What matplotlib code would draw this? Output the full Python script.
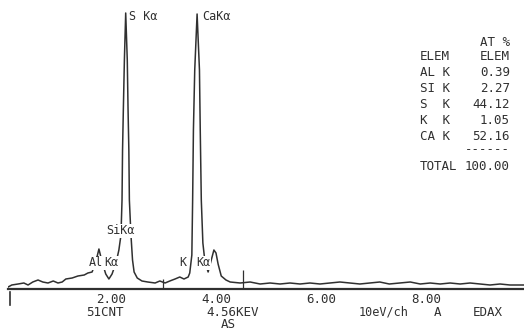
import matplotlib
matplotlib.use("Agg")
import matplotlib.pyplot as plt
from matplotlib.lines import Line2D

# ---- data ----
energy_kev = [0.04, 0.11, 0.23, 0.34, 0.42, 0.51, 0.61, 0.70, 0.80, 0.90, 0.99, 1.07,
              1.14, 1.26, 1.37, 1.49, 1.56, 1.64, 1.71, 1.77, 1.83, 1.90, 1.96, 2.02,
              2.10, 2.15, 2.19, 2.21, 2.22, 2.235, 2.255, 2.28, 2.31, 2.325, 2.34, 2.35,
              2.38, 2.41, 2.44, 2.50, 2.59, 2.70, 2.84, 2.93, 3.03, 3.12, 3.22, 3.31,
              3.39, 3.47, 3.50, 3.54, 3.555, 3.57, 3.595, 3.64, 3.685, 3.70, 3.72, 3.75,
              3.79, 3.85, 3.90, 3.96, 4.00, 4.04, 4.10, 4.19, 4.27, 4.46, 4.65, 4.84,
              5.03, 5.22, 5.41, 5.60, 5.79, 5.98, 6.17, 6.36, 6.55, 6.74, 6.93, 7.12,
              7.30, 7.50, 7.70, 7.89, 8.08, 8.27, 8.46, 8.65, 8.84, 9.03, 9.22, 9.41,
              9.60, 9.87]
counts = [2, 4, 5, 6, 4, 7, 9, 7, 6, 8, 6, 7,
          10, 11, 13, 14, 16, 17, 27, 40, 27, 15, 10, 15,
          27, 39, 54, 89, 139, 179, 229, 276, 229, 179, 139, 89,
          54, 29, 17, 11, 8, 7, 6, 8, 6, 8, 10, 12,
          10, 12, 16, 34, 89, 159, 219, 275, 219, 159, 89, 46,
          27, 17, 27, 39, 36, 25, 13, 9, 7, 6, 7, 5,
          6, 5, 6, 5, 6, 5, 6, 7, 6, 5, 6, 7,
          5, 6, 7, 5, 6, 5, 6, 5, 6, 5, 4, 5,
          4, 4]
cursor_kev = [2.99, 4.51]
cursor_top = [10, 19]

tick_kev = [2, 4, 6, 8]
tick_labels = ["2.00", "4.00", "6.00", "8.00"]

table_elems = ["AL K", "SI K", "S  K", "K  K", "CA K"]
table_at_pct = ["0.39", "2.27", "44.12", "1.05", "52.16"]
table_total = "100.00"

INK = "#303030"
W, H = 524, 332
MONO = ["DejaVu Sans Mono"]

fig = plt.figure(figsize=(W / 100, H / 100), dpi=100)
fig.patch.set_facecolor("white")
ax = fig.add_axes([8 / W, (H - 289) / H, 1 - 8 / W, 289 / H])
ax.set_xlim(0.038, 9.867)
ax.set_ylim(0, 289)
ax.set_facecolor("none")

ax.plot(energy_kev, counts, color=INK, lw=1.1, zorder=2)
ax.vlines(cursor_kev, 0, cursor_top, color=INK, lw=0.9, zorder=2)

for s in ["top", "right", "left"]:
    ax.spines[s].set_visible(False)
ax.spines["bottom"].set_linewidth(1.6)
ax.spines["bottom"].set_color(INK)
ax.set_yticks([])
ax.set_xticks(tick_kev)
ax.set_xticklabels(tick_labels, family=MONO, fontsize=9, color=INK)
ax.tick_params(axis="x", length=0, pad=3)


def ftext(x, y, s, ha="left", size=9, box=False, **kw):
    t = fig.text(x / W, 1 - y / H, s, ha=ha, va="center", fontsize=size,
                 family=MONO, color=INK, zorder=5, **kw)
    if box:
        t.set_bbox(dict(facecolor="white", edgecolor="none", pad=0.3))
    return t


# peak labels
ftext(129, 17, "S Kα", size=8.5)
ftext(202, 17, "CaKα", size=8.5)
ftext(106, 231, "SiKα", size=8.5, box=True)
ftext(89, 263, "Al", size=8.5, box=True)
ftext(104, 263, "Kα", size=8.5, box=True)
ftext(179, 263, "K", size=8.5)
ftext(196, 263, "Kα", size=8.5, box=True)

# bottom annotations
ftext(105, 312, "51CNT", ha="center")
ftext(233, 312, "4.56KEV", ha="center")
ftext(228, 325, "AS", ha="center")
ftext(384, 312, "10eV/ch", ha="center", size=8.5)
ftext(438, 312, "A", ha="center")
ftext(488, 312, "EDAX", ha="center")
fig.add_artist(Line2D([10 / W, 10 / W], [1 - 292 / H, 1 - 305 / H],
                      color=INK, lw=1.2, transform=fig.transFigure))

# composition table
ftext(510, 42, "AT %", ha="right")
ftext(420, 57, "ELEM")
ftext(510, 57, "ELEM", ha="right")
row_y = [73, 89, 105, 120, 136]
for yy, el, v in zip(row_y, table_elems, table_at_pct):
    ftext(420, yy, el)
    ftext(510, yy, v, ha="right")
ftext(510, 150, "------", ha="right")
ftext(420, 167, "TOTAL", ha="left")
ftext(510, 167, table_total, ha="right")

fig.savefig("out.png", dpi=100, facecolor="white")
